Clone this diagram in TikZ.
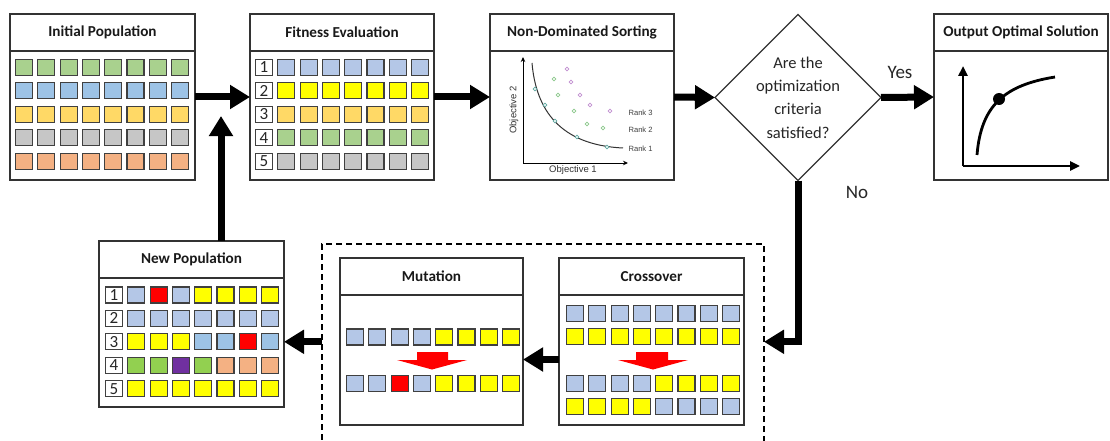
\documentclass[tikz,border=0pt]{standalone}
\usepackage{fontspec}
\setmainfont{Carlito}
\newfontfamily\plotfont{Liberation Sans}
\usetikzlibrary{arrows.meta,shapes.geometric}

\definecolor{popgreen}{HTML}{A9D18E}
\definecolor{popblue}{HTML}{9DC3E6}
\definecolor{popgold}{HTML}{FFD966}
\definecolor{popgrey}{HTML}{C6C6C6}
\definecolor{popsalmon}{HTML}{F4B183}
\definecolor{paleblue}{HTML}{B4C7E7}
\definecolor{geneyellow}{HTML}{FFFF00}
\definecolor{genered}{HTML}{FF0000}
\definecolor{leafgreen}{HTML}{92D050}
\definecolor{violet}{HTML}{7030A0}
\definecolor{rankone}{HTML}{5FA8A0}
\definecolor{ranktwo}{HTML}{8CC88C}
\definecolor{rankthree}{HTML}{C28FD0}

% panel with a title band
\newcommand{\drawpanel}[5]{%
  \node[panel,minimum width=#3,minimum height=#4] (#1) at (#2) {};
  \node[panel title] (#1-title) at ([yshift=-18.5pt]#1.north) {#5};
  \draw[panel rule] ([yshift=-37pt]#1.north west) -- ([yshift=-37pt]#1.north east);
}
% one row of genes
\newcommand{\generow}[4]{%
  \foreach \c [count=\i] in {#4}
    \node[gene,fill=\c] (#1-\i) at ({#2+22.3*(\i-1)},#3) {};
}

\begin{document}
\begin{tikzpicture}[
  x=1pt, y=-1pt,
  panel/.style={
    draw=black!80,
    fill=white,
    line width=1.2pt,
    inner sep=0pt,
    outer sep=0pt
  },
  panel title/.style={
    font=\fontsize{15.2}{17}\selectfont\bfseries,
    text=black!90
  },
  panel rule/.style={
    draw=black!80,
    line width=1.2pt
  },
  gene/.style={
    draw=black!75,
    line width=1.2pt,
    minimum width=17pt,
    minimum height=16pt,
    inner sep=0pt,
    outer sep=0pt
  },
  rankbox/.style={
    gene,
    fill=white,
    font=\fontsize{17}{17}\selectfont,
    text=black!85
  },
  decision/.style={
    diamond,
    aspect=1,
    draw=black!80,
    fill=white,
    line width=1.2pt,
    minimum size=166pt,
    inner sep=-6pt,
    outer sep=0pt,
    align=center,
    font=\fontsize{16.5}{23.3}\selectfont,
    text=black!85
  },
  answer/.style={
    font=\fontsize{19}{19}\selectfont,
    text=black!85
  },
  opsgroup/.style={
    draw=black,
    line width=1.3pt,
    dash pattern=on 6pt off 4pt,
    minimum width=442pt,
    minimum height=226pt,
    inner sep=0pt,
    outer sep=0pt
  },
  flow arrow/.style={
    -{Triangle[length=20pt,width=23pt]},
    draw=black,
    line width=7pt
  },
  thin axis/.style={
    -{Stealth[length=5pt,width=4.5pt]},
    draw=black,
    line width=1pt
  },
  bold axis/.style={
    -{Triangle[length=10pt,width=9pt]},
    draw=black,
    line width=2.6pt
  },
  plot label/.style={
    font=\plotfont\fontsize{9.5}{10}\selectfont,
    text=black!80
  },
  rank label/.style={
    font=\plotfont\fontsize{7.6}{8}\selectfont,
    text=black!75,
    anchor=west
  },
  point/.style={
    line width=0.7pt,
    fill=white
  }
]
\useasboundingbox (0,0) rectangle (1110,441);

% top row of panels
\drawpanel{initpop}{102.5,97}{185pt}{166pt}{Initial Population}
\drawpanel{fiteval}{342,97}{184pt}{166pt}{Fitness Evaluation}
\drawpanel{ndsort}{582,97}{184pt}{166pt}{Non-Dominated Sorting}
\drawpanel{output}{1021,97}{174pt}{166pt}{Output Optimal Solution}

\node[decision] (decision) at (798,97.5) {Are the\\optimization\\criteria\\satisfied?};

% bottom row
\node[opsgroup] (opsgroup) at (543,357) {};
\drawpanel{newpop}{191.5,324}{185pt}{166pt}{New Population}
\drawpanel{mutation}{431.5,341.5}{183pt}{167pt}{Mutation}
\drawpanel{crossover}{651.5,341.5}{185pt}{167pt}{Crossover}

% initial population
\generow{ip1}{24}{67.5}{popgreen,popgreen,popgreen,popgreen,popgreen,popgreen,popgreen,popgreen}
\generow{ip2}{24}{90.9}{popblue,popblue,popblue,popblue,popblue,popblue,popblue,popblue}
\generow{ip3}{24}{114.3}{popgold,popgold,popgold,popgold,popgold,popgold,popgold,popgold}
\generow{ip4}{24}{137.7}{popgrey,popgrey,popgrey,popgrey,popgrey,popgrey,popgrey,popgrey}
\generow{ip5}{24}{161.1}{popsalmon,popsalmon,popsalmon,popsalmon,popsalmon,popsalmon,popsalmon,popsalmon}

% fitness evaluation
\foreach \y [count=\k] in {67.5,90.9,114.3,137.7,161.1}
  \node[rankbox] (fe-n\k) at (264,\y) {\k};
\generow{fe1}{286.3}{67.5}{paleblue,paleblue,paleblue,paleblue,paleblue,paleblue,paleblue}
\generow{fe2}{286.3}{90.9}{geneyellow,geneyellow,geneyellow,geneyellow,geneyellow,geneyellow,geneyellow}
\generow{fe3}{286.3}{114.3}{popgold,popgold,popgold,popgold,popgold,popgold,popgold}
\generow{fe4}{286.3}{137.7}{popgreen,popgreen,popgreen,popgreen,popgreen,popgreen,popgreen}
\generow{fe5}{286.3}{161.1}{popgrey,popgrey,popgrey,popgrey,popgrey,popgrey,popgrey}

% non-dominated sorting plot
\draw[thin axis] (523,163) -- (523,57);
\draw[thin axis] (523,163) -- (628,163);
\node[plot label,rotate=90] (obj-two) at (514,110) {Objective 2};
\node[plot label] (obj-one) at (573,170) {Objective 1};
\draw[line width=1pt,black!80] (532,63) .. controls (536,110) and (560,145) .. (623,148);
\foreach \p in {(535,89),(545,105),(555,121),(577,137),(607,147)}
  \draw[point,draw=rankone] \p circle (1.8);
\foreach \p in {(554,79),(558,95),(574,111),(587,124),(603,128)}
  \draw[point,draw=ranktwo] \p circle (1.8);
\foreach \p in {(567,69),(571,82),(580,95),(590,105),(610,111)}
  \draw[point,draw=rankthree] \p circle (1.8);
\node[rank label] (rank-three) at (625,113) {Rank 3};
\node[rank label] (rank-two) at (625,130) {Rank 2};
\node[rank label] (rank-one) at (625,149) {Rank 1};

% output plot
\draw[bold axis] (963,166) -- (963,66);
\draw[bold axis] (963,166) -- (1080,166);
\draw[line width=2.8pt] (977,155) .. controls (981,105) and (1005,85) .. (1055,77);
\fill (999,99) circle (6);

% new population
\foreach \y [count=\k] in {295,318.4,341.8,365.2,388.6}
  \node[rankbox] (np-n\k) at (114,\y) {\k};
\generow{np1}{136.3}{295}{paleblue,genered,paleblue,geneyellow,geneyellow,geneyellow,geneyellow}
\generow{np2}{136.3}{318.4}{paleblue,paleblue,paleblue,paleblue,paleblue,paleblue,paleblue}
\generow{np3}{136.3}{341.8}{geneyellow,geneyellow,geneyellow,popblue,popblue,genered,popblue}
\generow{np4}{136.3}{365.2}{leafgreen,leafgreen,violet,leafgreen,popsalmon,popsalmon,popsalmon}
\generow{np5}{136.3}{388.6}{geneyellow,geneyellow,geneyellow,geneyellow,geneyellow,geneyellow,geneyellow}

% mutation
\generow{mu1}{355}{337}{paleblue,paleblue,paleblue,paleblue,geneyellow,geneyellow,geneyellow,geneyellow}
\generow{mu2}{355}{383.5}{paleblue,paleblue,genered,paleblue,geneyellow,geneyellow,geneyellow,geneyellow}
\fill[genered] (417,352) -- (448,352) -- (448,360) -- (467,360) -- (432,369.5)
  -- (397,360) -- (417,360) -- cycle;

% crossover
\generow{co1}{575}{313.5}{paleblue,paleblue,paleblue,paleblue,paleblue,paleblue,paleblue,paleblue}
\generow{co2}{575}{336.5}{geneyellow,geneyellow,geneyellow,geneyellow,geneyellow,geneyellow,geneyellow,geneyellow}
\generow{co3}{575}{383.5}{paleblue,paleblue,paleblue,paleblue,geneyellow,geneyellow,geneyellow,geneyellow}
\generow{co4}{575}{406.5}{geneyellow,geneyellow,geneyellow,geneyellow,paleblue,paleblue,paleblue,paleblue}
\fill[genered] (636,352) -- (668,352) -- (668,360) -- (688,360) -- (653,369.5)
  -- (618,360) -- (636,360) -- cycle;

% flow
\coordinate (merge) at (221,116);
\draw[flow arrow] (initpop.east) -- (fiteval.west);
\draw[flow arrow] (fiteval.east) -- (ndsort.west);
\draw[flow arrow] (ndsort.east) -- (decision.west);
\draw[flow arrow] (decision.east) -- (output.west);
\draw[flow arrow] (decision.south) |- (opsgroup.east |- np-n3);
\draw[flow arrow] ([yshift=-18pt]crossover.west) -- ([yshift=-18pt]mutation.east);
\draw[flow arrow] (opsgroup.west |- np-n3) -- (newpop.east |- np-n3);
\draw[flow arrow] (newpop.north -| merge) -- (merge);

\node[answer] (yes-label) at (900,72) {Yes};
\node[answer] (no-label) at (857,192) {No};

\end{tikzpicture}
\end{document}
